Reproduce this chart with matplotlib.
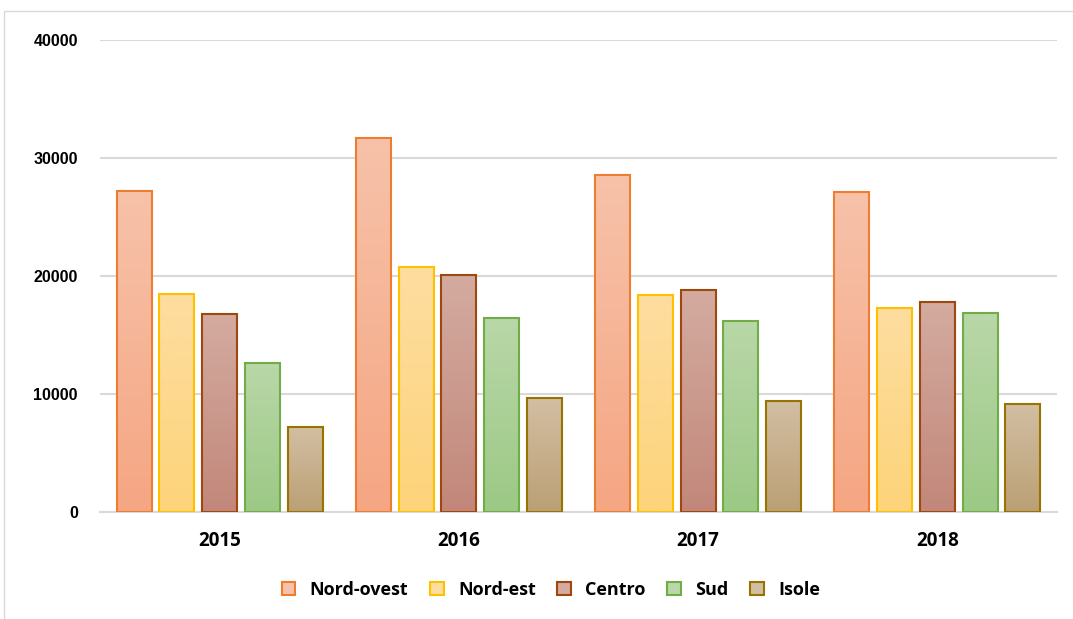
import numpy as np
import matplotlib
matplotlib.use("Agg")
import matplotlib.pyplot as plt
from matplotlib.patches import Patch, Rectangle
from matplotlib.colors import to_rgb

years = ["2015", "2016", "2017", "2018"]
regions = ["Nord-ovest", "Nord-est", "Centro", "Sud", "Isole"]
nord_ovest = [27200, 31700, 28550, 27120]
nord_est = [18480, 20760, 18390, 17290]
centro = [16780, 20090, 18810, 17800]
sud = [12630, 16440, 16190, 16860]
isole = [7200, 9660, 9410, 9150]
y_ticks = [0, 10000, 20000, 30000, 40000]

series = [nord_ovest, nord_est, centro, sud, isole]
# (top colour, bottom colour, edge colour) per region
styles = [
    ("#F7C2A9", "#F5A683", "#ED7D31"),
    ("#FDDDA0", "#FDD47A", "#FFC000"),
    ("#D4ABA0", "#C2877A", "#9E480E"),
    ("#B9D7A8", "#9CC985", "#70AD47"),
    ("#D2BEA2", "#BBA075", "#997300"),
]

fig = plt.figure(figsize=(10.73, 6.19), dpi=100)
W, H = 1073, 619
ax = fig.add_axes([100 / W, 107 / H, 957 / W, 472 / H])

# outer chart frame
fig.patches.append(Rectangle((4 / W, -0.1), 1.2, (H - 11) / H + 0.1,
                             transform=fig.transFigure, fill=False,
                             edgecolor="#D9D9D9", linewidth=1.0))

step = 0.1787
width = 0.146
x = np.arange(len(years))
for i, (vals, (ctop, cbot, cedge)) in enumerate(zip(series, styles)):
    grad = np.linspace(np.array(to_rgb(ctop)), np.array(to_rgb(cbot)), 64)[:, None, :]
    for xi, v in zip(x, vals):
        x0 = xi + (i - 2) * step - width / 2
        ax.imshow(grad, extent=[x0, x0 + width, 0, v], aspect="auto",
                  interpolation="bilinear", zorder=2)
        ax.add_patch(Rectangle((x0, 0), width, v, fill=False,
                               edgecolor=cedge, linewidth=1.5, zorder=3))

ax.set_xlim(-0.5, len(years) - 0.5)
ax.set_ylim(0, 40000)
ax.set_yticks(y_ticks)
ax.set_yticklabels([str(t) for t in y_ticks], fontsize=11.5, fontweight="bold",
                   family=["Liberation Sans", "DejaVu Sans"])
ax.set_xticks(x)
ax.set_xticklabels(years, fontsize=13.5, fontweight="bold",
                   family=["Open Sans", "DejaVu Sans"])
ax.tick_params(axis="both", length=0)
ax.tick_params(axis="y", pad=16)
ax.tick_params(axis="x", pad=14)
ax.grid(axis="y", color="#D9D9D9", linewidth=1.5, zorder=0)
ax.set_axisbelow(True)
for s in ["top", "right", "left"]:
    ax.spines[s].set_visible(False)
ax.spines["bottom"].set_color("#D9D9D9")
ax.spines["bottom"].set_linewidth(1.5)

handles = [Patch(facecolor=st[0], edgecolor=st[2], linewidth=1.5, label=r)
           for r, st in zip(regions, styles)]
fig.legend(handles=handles, loc="center", bbox_to_anchor=(551 / W, 1 - 590 / H),
           ncol=5, frameon=False, handlelength=0.75, handleheight=0.75,
           handletextpad=0.8, columnspacing=1.2,
           prop={"family": ["Open Sans", "DejaVu Sans"], "weight": "bold", "size": 13})

fig.savefig("out.png", dpi=100)
